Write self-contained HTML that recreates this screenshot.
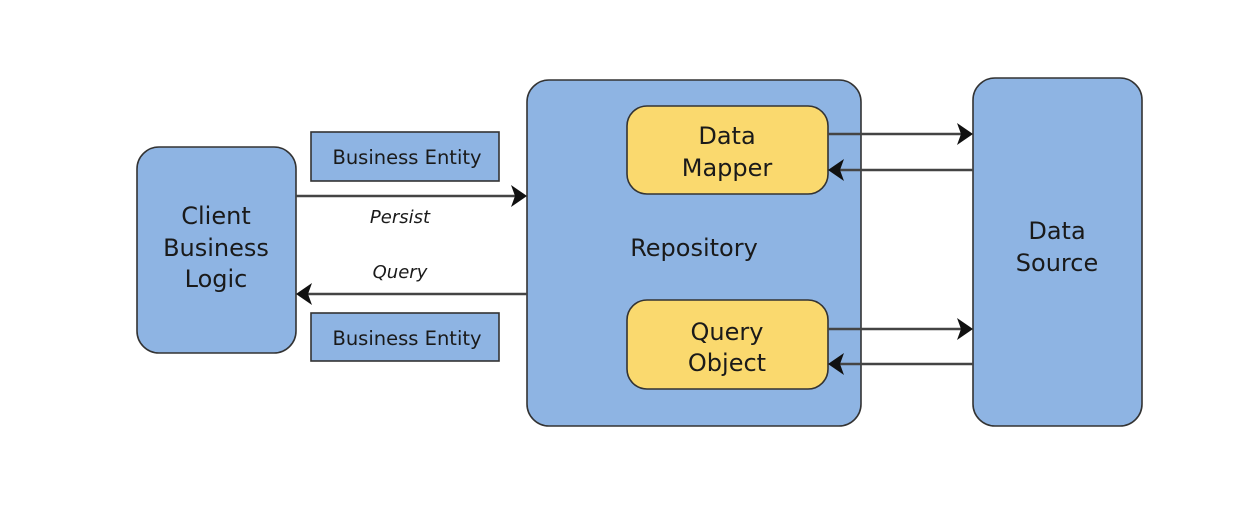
<!DOCTYPE html>
<html><head><style>body{margin:0;background:#fff}</style></head><body>
<svg width="1259" height="525" xmlns="http://www.w3.org/2000/svg" font-family="'DejaVu Sans','Liberation Sans',sans-serif" fill="#1a1a1a">
<g stroke="#333" stroke-width="1.6">
<rect x="137" y="147" width="159" height="206" rx="22" fill="#8EB4E3"/>
<rect x="311" y="132" width="188" height="49" fill="#8EB4E3"/>
<rect x="311" y="313" width="188" height="48" fill="#8EB4E3"/>
<rect x="527" y="80" width="334" height="346" rx="22" fill="#8EB4E3"/>
<rect x="627" y="106" width="201" height="88" rx="20" fill="#FAD96E"/>
<rect x="627" y="300" width="201" height="89" rx="20" fill="#FAD96E"/>
<rect x="973" y="78" width="169" height="348" rx="22" fill="#8EB4E3"/>
</g>
<g stroke="#444" stroke-width="2.5" fill="none">
<line x1="296" y1="196" x2="520" y2="196"/>
<line x1="527" y1="294" x2="303" y2="294"/>
<line x1="828" y1="134" x2="966" y2="134"/>
<line x1="973" y1="170" x2="835" y2="170"/>
<line x1="828" y1="329" x2="966" y2="329"/>
<line x1="973" y1="364" x2="835" y2="364"/>
</g>
<g fill="#111">
<path d="M527,196 L511,185 L515,196 L511,207z"/>
<path d="M296,294 L312,283 L308,294 L312,305z"/>
<path d="M973,134 L957,123 L961,134 L957,145z"/>
<path d="M828,170 L844,159 L840,170 L844,181z"/>
<path d="M973,329 L957,318 L961,329 L957,340z"/>
<path d="M828,364 L844,353 L840,364 L844,375z"/>
</g>
<g font-size="24" text-anchor="middle">
<text x="216" y="224">Client</text>
<text x="216" y="256">Business</text>
<text x="216" y="287">Logic</text>
<text x="727" y="144">Data</text>
<text x="727" y="176">Mapper</text>
<text x="694" y="256">Repository</text>
<text x="727" y="340">Query</text>
<text x="727" y="371">Object</text>
<text x="1057" y="239">Data</text>
<text x="1057" y="271">Source</text>
</g>
<g font-size="19.5" text-anchor="middle">
<text x="407" y="164">Business Entity</text>
<text x="407" y="345">Business Entity</text>
</g>
<g font-size="18" font-style="italic" text-anchor="middle">
<text x="400" y="223">Persist</text>
<text x="400" y="278">Query</text>
</g>
</svg>
</body></html>
